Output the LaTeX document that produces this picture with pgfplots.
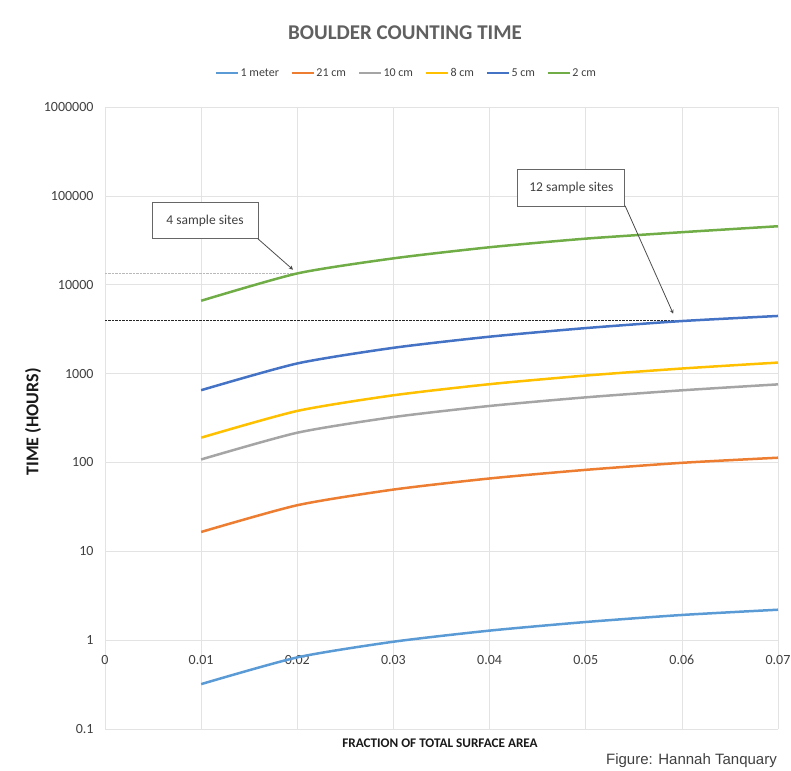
\documentclass[border=0pt]{standalone}
\usepackage{fontspec}
\setmainfont{Carlito}
\newfontfamily\arialfont{Liberation Sans}
\usepackage{pgfplots}
\pgfplotsset{compat=1.18}
\definecolor{cA}{HTML}{5B9BD5}
\definecolor{cB}{HTML}{ED7D31}
\definecolor{cC}{HTML}{A5A5A5}
\definecolor{cD}{HTML}{FFC000}
\definecolor{cE}{HTML}{4472C4}
\definecolor{cF}{HTML}{70AD47}
\definecolor{txt}{HTML}{404040}
\begin{document}
\begin{tikzpicture}
\path[use as bounding box] (-105bp,-42bp) rectangle (686bp,729bp);
\begin{axis}[
  scale only axis, width=673bp, height=622bp,
  at={(0,0)}, anchor=south west,
  xmin=0, xmax=0.07, ymode=log, ymin=0.1, ymax=1000000,
  axis line style={draw=none},
  major tick length=0pt, minor tick length=0pt,
  scaled x ticks=false,
  xtick={0,0.01,0.02,0.03,0.04,0.05,0.06,0.07},
  xticklabels={0,0.01,0.02,0.03,0.04,0.05,0.06,0.07},
  ytick={0.1,1,10,100,1000,10000,100000,1000000},
  yticklabels={0.1,1,10,100,1000,10000,100000,1000000},
  minor ytick={},
  grid=major,
  major grid style={gray!22, line width=0.7bp},
  xticklabel style={anchor=center, yshift=69bp, font=\fontsize{14bp}{16bp}\selectfont, text=txt},
  yticklabel style={anchor=east, xshift=-8bp, font=\fontsize{14bp}{16bp}\selectfont, text=txt},
  legend columns=6,
  legend style={draw=none, fill=none, at={(0.4473,1.0547)}, anchor=center,
     font=\fontsize{12bp}{14bp}\selectfont, text=txt,
     /tikz/every even column/.append style={column sep=10bp},
     inner sep=0pt, nodes={inner sep=1.5bp}},
  legend image code/.code={\draw[#1, line width=2.5bp] (0bp,0bp) -- (22bp,0bp);},
  clip=false,
  every axis plot/.append style={line width=2.5bp, smooth, tension=0.4},
]
\addplot[gray!55, densely dotted, line width=1bp, sharp plot, forget plot] coordinates {(0,13500) (0.02,13500)};
\addplot[black!85, densely dotted, line width=1bp, sharp plot, forget plot] coordinates {(0,4000) (0.06,4000)};
\addplot[cA] coordinates {(0.01,0.32) (0.02,0.64) (0.03,0.96) (0.04,1.28) (0.05,1.6) (0.06,1.92) (0.07,2.2)};
\addlegendentry{1 meter}
\addplot[cB] coordinates {(0.01,16.5) (0.02,33) (0.03,49.5) (0.04,66) (0.05,82.5) (0.06,99) (0.07,113)};
\addlegendentry{21 cm}
\addplot[cC] coordinates {(0.01,108) (0.02,216) (0.03,324) (0.04,432) (0.05,540) (0.06,648) (0.07,756)};
\addlegendentry{10 cm}
\addplot[cD] coordinates {(0.01,190) (0.02,380) (0.03,570) (0.04,760) (0.05,950) (0.06,1140) (0.07,1330)};
\addlegendentry{8 cm}
\addplot[cE] coordinates {(0.01,650) (0.02,1300) (0.03,1950) (0.04,2600) (0.05,3250) (0.06,3900) (0.07,4450)};
\addlegendentry{5 cm}
\addplot[cF] coordinates {(0.01,6600) (0.02,13400) (0.03,19800) (0.04,26400) (0.05,33000) (0.06,39000) (0.07,45500)};
\addlegendentry{2 cm}
\node[draw=gray!80!black, line width=0.8bp, fill=white, minimum width=106bp, minimum height=36bp, inner sep=2bp,
  font=\fontsize{13.5bp}{15bp}\selectfont, text=txt] at (axis cs:0.0104,52400) {4 sample sites};
\node[draw=gray!80!black, line width=0.8bp, fill=white, minimum width=107bp, minimum height=37bp, inner sep=2bp,
  font=\fontsize{13.5bp}{15bp}\selectfont, text=txt] at (axis cs:0.0485,123000) {12 sample sites};
\draw[-stealth, gray!60!black, line width=0.8bp] (axis cs:0.0159,32900) -- (axis cs:0.01956,14750);
\draw[-stealth, gray!60!black, line width=0.8bp] (axis cs:0.0541,77200) -- (axis cs:0.0591,4720);
\end{axis}
\node[font=\bfseries\fontsize{21bp}{24bp}\selectfont, text=gray!75!black] at (300bp,696bp) {BOULDER COUNTING TIME};
\node[font=\bfseries\fontsize{13.2bp}{15bp}\selectfont, text=black!90] at (335bp,-14bp) {FRACTION OF TOTAL SURFACE AREA};
\node[font=\bfseries\fontsize{18bp}{20bp}\selectfont, text=black!90, rotate=90] at (-72bp,307bp) {TIME (HOURS)};
\node[font=\arialfont\fontsize{15bp}{17bp}\selectfont, text=txt, anchor=east, inner sep=0pt] at (672bp,-32bp) {Figure: Hannah Tanquary};
\end{tikzpicture}
\end{document}
